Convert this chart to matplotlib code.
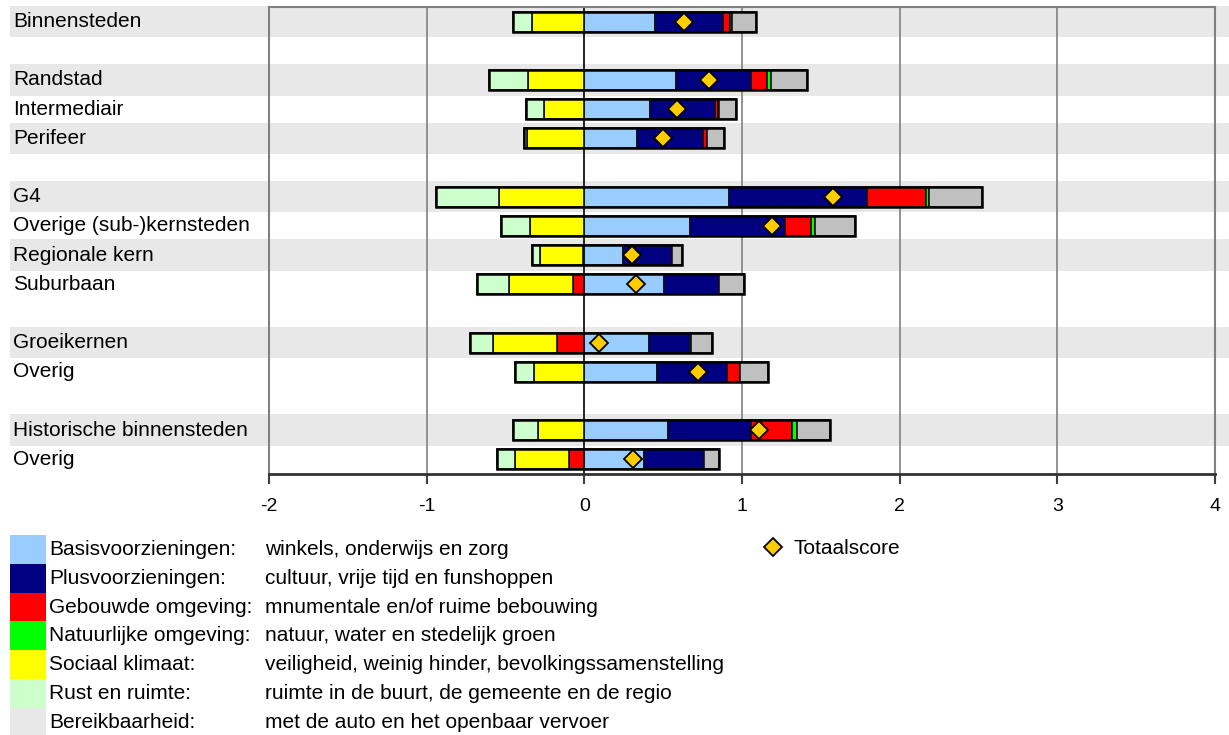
import matplotlib
matplotlib.use("Agg")
import matplotlib.pyplot as plt
from matplotlib.patches import Rectangle
from matplotlib.transforms import blended_transform_factory
import numpy as np

plt.rcParams['font.family'] = ['Liberation Sans', 'DejaVu Sans']

# ---- data ----
row_labels = ["Binnensteden", "", "Randstad", "Intermediair", "Perifeer", "",
              "G4", "Overige (sub-)kernsteden", "Regionale kern", "Suburbaan", "",
              "Groeikernen", "Overig", "", "Historische binnensteden", "Overig"]
data_rows = [0, 2, 3, 4, 6, 7, 8, 9, 11, 12, 14, 15]
striped_rows = [0, 2, 4, 6, 8, 11, 14]

series_names = ["Basisvoorzieningen:", "Plusvoorzieningen:", "Gebouwde omgeving:",
                "Natuurlijke omgeving:", "Sociaal klimaat:", "Rust en ruimte:",
                "Bereikbaarheid:"]
series_desc = ["winkels, onderwijs en zorg", "cultuur, vrije tijd en funshoppen",
               "mnumentale en/of ruime bebouwing", "natuur, water en stedelijk groen",
               "veiligheid, weinig hinder, bevolkingssamenstelling",
               "ruimte in de buurt, de gemeente en de regio",
               "met de auto en het openbaar vervoer"]
series_colors = ["#99CCFF", "#000080", "#FF0000", "#00FF00", "#FFFF00", "#CCFFCC", "#C0C0C0"]
legend_colors = ["#99CCFF", "#000080", "#FF0000", "#00FF00", "#FFFF00", "#CCFFCC", "#E8E8E8"]

basis    = [0.446, 0.580, 0.419, 0.334, 0.915, 0.669, 0.246, 0.507, 0.408, 0.459, 0.533, 0.381]
plus     = [0.434, 0.474, 0.411, 0.419, 0.879, 0.605, 0.312, 0.350, 0.261, 0.447, 0.523, 0.376]
gebouwd  = [0.047, 0.106, 0.015, 0.022, 0.370, 0.163, -0.009, -0.072, -0.171, 0.084, 0.258, -0.095]
natuur   = [0.008, 0.021, 0.010, 0.000, 0.024, 0.025, 0.000, 0.000, 0.010, 0.000, 0.032, 0.000]
sociaal  = [-0.332, -0.358, -0.256, -0.364, -0.541, -0.344, -0.272, -0.406, -0.409, -0.319, -0.294, -0.343]
rust     = [-0.123, -0.245, -0.114, -0.019, -0.398, -0.187, -0.053, -0.201, -0.148, -0.123, -0.161, -0.114]
bereik   = [0.151, 0.229, 0.108, 0.114, 0.335, 0.257, 0.063, 0.158, 0.132, 0.174, 0.211, 0.098]
totaal   = [0.63, 0.79, 0.59, 0.50, 1.58, 1.19, 0.30, 0.33, 0.09, 0.72, 1.11, 0.31]

series = [basis, plus, gebouwd, natuur, sociaal, rust, bereik]
xticks = [-2, -1, 0, 1, 2, 3, 4]

# ---- figure ----
W, H = 1229, 735
fig = plt.figure(figsize=(W / 100, H / 100), dpi=100)
ax = fig.add_axes([269 / W, 1 - 474 / H, (1215 - 269) / W, (474 - 7) / H])
ax.set_facecolor('none')
ax.set_xlim(-2, 4)
ax.set_ylim(len(row_labels) - 0.5, -0.5)

FS = 15

# stripes spanning the whole width
btrans = blended_transform_factory(fig.transFigure, ax.transData)
stripe_h = 1.08
for r in striped_rows:
    ax.add_patch(Rectangle((10 / W, r - stripe_h / 2), 1 - 10 / W, stripe_h,
                           transform=btrans, facecolor="#E8E8E8", edgecolor='none',
                           clip_on=False, zorder=0))

# grid lines
for xv in xticks[1:-1]:
    ax.axvline(xv, color='black' if xv == 0 else '#808080', lw=1.2, zorder=1)

# stacked bars (positive and negative stacks)
ys = np.array(data_rows, dtype=float)
pos = np.zeros(len(data_rows))
neg = np.zeros(len(data_rows))
bar_h = 0.68
for vals, col in zip(series, series_colors):
    vals = np.array(vals)
    for i, v in enumerate(vals):
        if v == 0:
            continue
        if v > 0:
            left = pos[i]
            pos[i] += v
        else:
            neg[i] += v
            left = neg[i]
        ax.barh(ys[i], abs(v), left=left, height=bar_h, color=col,
                edgecolor='#111111', linewidth=1.2, zorder=2)
# outer outline
for i in range(len(data_rows)):
    ax.add_patch(Rectangle((neg[i], ys[i] - bar_h / 2), pos[i] - neg[i], bar_h,
                           facecolor='none', edgecolor='black', linewidth=1.8, zorder=3))

ax.plot(totaal, ys, linestyle='none', marker='D', markersize=9.5,
        markerfacecolor='#FFCC00', markeredgecolor='black', markeredgewidth=1.3, zorder=4)

# row labels
for r, lab in enumerate(row_labels):
    if lab:
        ax.text(13 / W, r, lab, transform=btrans, ha='left', va='center',
                fontsize=FS, color='black')

# axes styling
ax.set_yticks([])
ax.set_xticks(xticks)
ax.set_xticklabels([str(t) for t in xticks], fontsize=14)
ax.tick_params(axis='x', direction='out', length=7, width=1.5, color='#404040', pad=10)
for s in ['top', 'left', 'right']:
    ax.spines[s].set_color('#808080')
    ax.spines[s].set_linewidth(1.5)
ax.spines['bottom'].set_color('#333333')
ax.spines['bottom'].set_linewidth(2)

# custom legend
pitch = 28.83
top0 = 535
for i, (name, desc, col) in enumerate(zip(series_names, series_desc, legend_colors)):
    y_top = top0 + i * pitch
    fig.patches.append(Rectangle((10 / W, 1 - (y_top + pitch) / H), 36 / W, pitch / H,
                                 transform=fig.transFigure, facecolor=col,
                                 edgecolor='none', zorder=1))
    yc = 1 - (y_top + pitch / 2) / H
    fig.text(49 / W, yc, name, ha='left', va='center', fontsize=FS)
    fig.text(265 / W, yc, desc, ha='left', va='center', fontsize=FS)

fig.lines.append(plt.Line2D([773 / W], [1 - 547 / H], transform=fig.transFigure,
                            marker='D', markersize=9.5, markerfacecolor='#FFCC00',
                            markeredgecolor='black', markeredgewidth=1.3, linestyle='none'))
fig.text(793 / W, 1 - 548 / H, "Totaalscore", ha='left', va='center', fontsize=FS)

fig.savefig("out.png", dpi=100)
